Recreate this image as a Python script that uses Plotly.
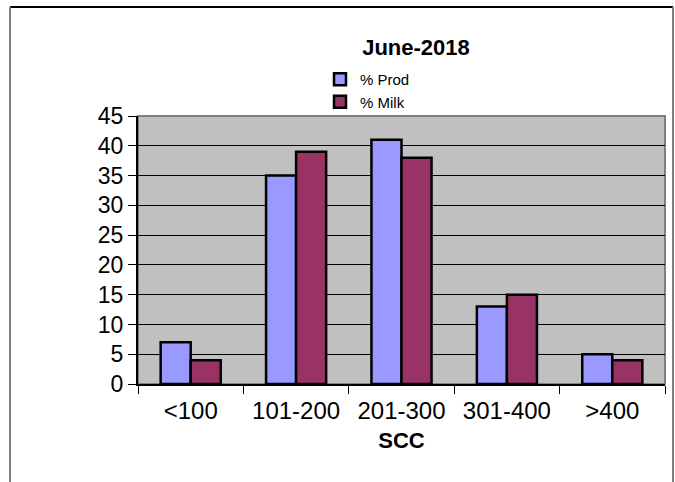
import plotly.graph_objects as go

categories = ["<100", "101-200", "201-300", "301-400", ">400"]
prod = [7, 35, 41, 13, 5]
milk = [4, 39, 38, 15, 4]
y_ticks = [0, 5, 10, 15, 20, 25, 30, 35, 40, 45]

W, H = 675, 482
L, R, T, B = 138, 665, 116, 384

def px(x):
    return (x - L) / (R - L)

def py(y):
    return (B - y) / (B - T)

fig = go.Figure()
fig.add_trace(go.Bar(name="% Prod", x=categories, y=prod,
                     marker=dict(color="#9999FF", line=dict(color="black", width=2.5))))
fig.add_trace(go.Bar(name="% Milk", x=categories, y=milk,
                     marker=dict(color="#993366", line=dict(color="black", width=2.5))))

fig.update_layout(
    width=W, height=H,
    margin=dict(l=L, r=W - R, t=T, b=H - B, pad=0),
    paper_bgcolor="white",
    plot_bgcolor="#C0C0C0",
    barmode="group",
    bargap=0.43,
    bargroupgap=0,
    font=dict(family="Liberation Sans, Arial, sans-serif", color="black"),
    title=dict(text="<b>June-2018</b>", x=416 / W, xanchor="center",
               y=1 - 47 / H, yanchor="middle", font=dict(size=22)),
    showlegend=True,
    legend=dict(x=px(320), xanchor="left", y=py(63), yanchor="top",
                font=dict(size=15), bgcolor="rgba(0,0,0,0)",
                itemwidth=30, tracegroupgap=0, traceorder="normal"),
    xaxis=dict(
        showgrid=False, showline=True, linecolor="black", linewidth=1.5,
        ticks="outside", ticklen=8, tickcolor="black",
        tickfont=dict(size=24), tickson="boundaries", ticklabelstandoff=4,
        title=dict(text="<b>SCC</b>", font=dict(size=22), standoff=10),
        mirror=False,
    ),
    yaxis=dict(
        range=[0, 45], tickvals=y_ticks, showgrid=True, gridcolor="black",
        gridwidth=1, showline=True, linecolor="black", linewidth=2,
        ticks="outside", ticklen=8, tickcolor="black",
        tickfont=dict(size=23), zeroline=False,
    ),
    shapes=[
        dict(type="rect", xref="paper", yref="paper", x0=0, x1=1, y0=0, y1=1,
             line=dict(color="#808080", width=2), fillcolor="rgba(0,0,0,0)", layer="below"),
        dict(type="line", xref="paper", yref="paper", x0=px(10), x1=px(673),
             y0=py(7), y1=py(7), line=dict(color="black", width=2)),
        dict(type="line", xref="paper", yref="paper", x0=px(10), x1=px(10),
             y0=py(7), y1=py(482), line=dict(color="#808080", width=2)),
        dict(type="line", xref="paper", yref="paper", x0=px(673), x1=px(673),
             y0=py(7), y1=py(482), line=dict(color="#808080", width=2)),
    ],
)

fig.write_html("out.html", config={"displayModeBar": False},
               post_script="document.body.style.margin='0';")
